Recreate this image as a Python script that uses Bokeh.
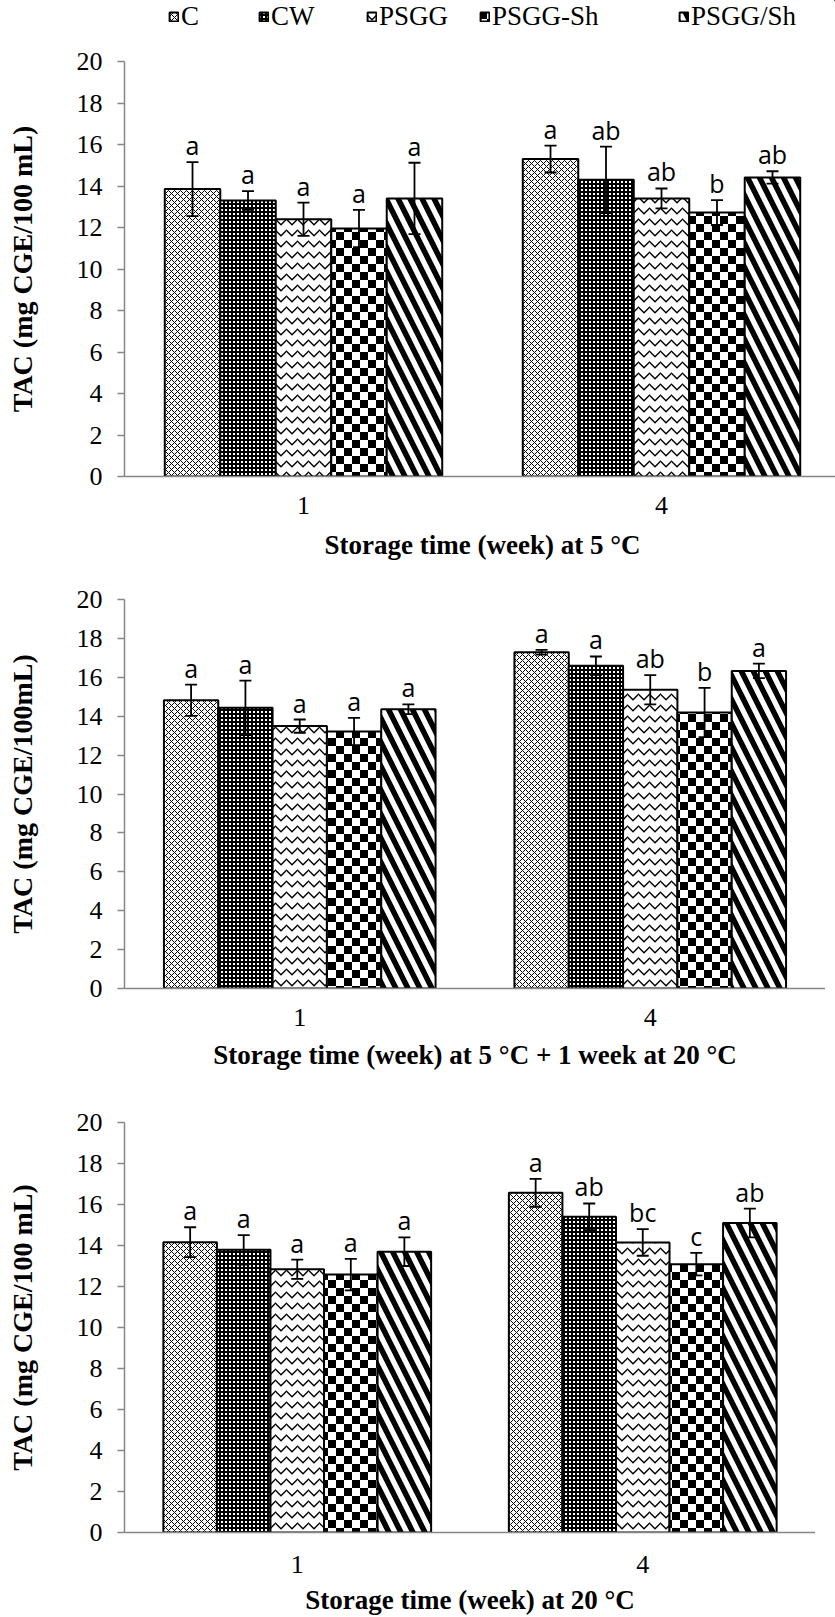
import base64
from bokeh.plotting import figure
from bokeh.models import (ColumnDataSource, FactorRange, Range1d, Legend, LegendItem,
                          ImageURLTexture, FixedTicker)
from bokeh.transform import dodge
from bokeh.layouts import column
from bokeh.embed import file_html
from bokeh.resources import INLINE
from bokeh.core.properties import value

# ---------------- data ----------------
weeks = ["1", "4"]
treatments = ["C", "CW", "PSGG", "PSGG-Sh", "PSGG/Sh"]

# Panel A: storage at 5 °C
a_wk1 = [13.85, 13.30, 12.40, 11.95, 13.40]
a_wk1_sd = [1.30, 0.45, 0.80, 0.90, 1.72]
a_wk1_let = ["a", "a", "a", "a", "a"]
a_wk4 = [15.30, 14.30, 13.40, 12.72, 14.41]
a_wk4_sd = [0.65, 1.60, 0.48, 0.60, 0.30]
a_wk4_let = ["a", "ab", "ab", "b", "ab"]

# Panel B: storage at 5 °C + 1 week at 20 °C
b_wk1 = [14.82, 14.43, 13.49, 13.21, 14.36]
b_wk1_sd = [0.80, 1.40, 0.34, 0.70, 0.25]
b_wk1_let = ["a", "a", "a", "a", "a"]
b_wk4 = [17.29, 16.60, 15.36, 14.19, 16.33]
b_wk4_sd = [0.12, 0.47, 0.75, 1.27, 0.37]
b_wk4_let = ["a", "a", "ab", "b", "a"]

# Panel C: storage at 20 °C
c_wk1 = [14.16, 13.79, 12.84, 12.58, 13.70]
c_wk1_sd = [0.73, 0.72, 0.47, 0.77, 0.70]
c_wk1_let = ["a", "a", "a", "a", "a"]
c_wk4 = [16.57, 15.40, 14.15, 13.09, 15.10]
c_wk4_sd = [0.68, 0.65, 0.65, 0.55, 0.70]
c_wk4_let = ["a", "ab", "bc", "c", "ab"]

y_ticks = [0, 2, 4, 6, 8, 10, 12, 14, 16, 18, 20]

# ---------------- styles ----------------
SERIF = "Liberation Serif"
AXIS_GRAY = "#868686"
BAR_W = 0.155


def svg_texture(svg):
    url = "data:image/svg+xml;base64," + base64.b64encode(svg.encode()).decode()
    return ImageURLTexture(url=url)


textures = {
    "checker": svg_texture(
        "<svg xmlns='http://www.w3.org/2000/svg' width='16' height='16'>"
        "<rect width='16' height='16' fill='white'/>"
        "<rect x='0' y='0' width='8' height='8' fill='black'/>"
        "<rect x='8' y='8' width='8' height='8' fill='black'/></svg>"),
    "darkdots": svg_texture(
        "<svg xmlns='http://www.w3.org/2000/svg' width='4' height='4'>"
        "<rect width='4' height='4' fill='black'/>"
        "<rect x='1' y='1' width='2' height='2' fill='white'/></svg>"),
}

hatch_styles = [
    dict(hatch_pattern=value("diagonal_cross"), hatch_scale=6, hatch_weight=1.0),
    dict(hatch_pattern=value("darkdots"), hatch_scale=4, hatch_weight=1),
    dict(hatch_pattern=value("horizontal_wave"), hatch_scale=11, hatch_weight=1.3),
    dict(hatch_pattern=value("checker"), hatch_scale=16, hatch_weight=1),
    dict(hatch_pattern=value("left_diagonal_line"), hatch_scale=24, hatch_weight=5.5),
]
bar_style = dict(fill_color="white", line_color="black", line_width=2,
                 hatch_color="black", hatch_extra=textures)

# ---------------- legend strip ----------------
legend_x = [44, 134, 242, 355, 554]   # offsets from the plot's left edge, px
lg = figure(frame_width=711, frame_height=40, x_range=Range1d(0, 1), y_range=Range1d(0, 1),
            output_backend="svg", toolbar_location=None, min_border_left=124,
            min_border_right=0, min_border_top=0, min_border_bottom=0,
            x_axis_location=None, y_axis_location=None, outline_line_color=None,
            background_fill_color="white", border_fill_color="white")
lg.xgrid.visible = False
lg.ygrid.visible = False
lg.axis.visible = False
for i, t in enumerate(treatments):
    # swatch-only renderer, kept outside the visible ranges
    swatch = lg.vbar(x=[5], bottom=[5], top=[6], width=0.1, **bar_style, **hatch_styles[i])
    lg.add_layout(Legend(items=[LegendItem(label=t, renderers=[swatch])],
                         location=(legend_x[i], 8), orientation="horizontal",
                         glyph_width=11, glyph_height=11, label_standoff=2,
                         padding=0, margin=0, border_line_color=None,
                         background_fill_alpha=0, label_text_font=SERIF,
                         label_text_font_size="27px", label_text_color="black"))


def make_panel(wk1, wk1_sd, wk1_let, wk4, wk4_sd, wk4_let, ylabel, xlabel,
               fw, fh, top, bottom, tick_gap, title_gap):
    p = figure(x_range=FactorRange(*weeks, range_padding=0), y_range=Range1d(0, 20),
               frame_width=fw, frame_height=fh, output_backend="svg", toolbar_location=None,
               min_border_left=124, min_border_right=0, min_border_top=top,
               min_border_bottom=bottom, background_fill_color="white",
               border_fill_color="white", outline_line_color=None)
    p.xgrid.visible = False
    p.ygrid.visible = False

    for i, t in enumerate(treatments):
        off = (i - 2) * BAR_W
        means = [wk1[i], wk4[i]]
        sds = [wk1_sd[i], wk4_sd[i]]
        src = ColumnDataSource(dict(
            week=weeks, top=means,
            upper=[m + s for m, s in zip(means, sds)],
            lower=[m - s for m, s in zip(means, sds)],
            letter=[wk1_let[i], wk4_let[i]],
        ))
        xs = dodge("week", off, range=p.x_range)
        p.vbar(x=xs, top="top", width=BAR_W, source=src, **bar_style, **hatch_styles[i])
        p.segment(x0=xs, y0="lower", x1=xs, y1="upper", source=src,
                  line_color="black", line_width=1.8)
        p.scatter(x=xs, y="upper", marker="dash", size=12, source=src,
                  line_color="black", line_width=1.8)
        p.scatter(x=xs, y="lower", marker="dash", size=12, source=src,
                  line_color="black", line_width=1.8)
        p.text(x=xs, y="upper", text="letter", source=src,
               text_font=value("Open Sans"), text_font_size="25px",
               text_align="center", text_baseline="alphabetic", y_offset=-17,
               text_color="black")

    # y axis
    ya = p.yaxis[0]
    ya.ticker = FixedTicker(ticks=y_ticks)
    ya.axis_line_color = AXIS_GRAY
    ya.axis_line_width = 1.5
    ya.major_tick_line_color = AXIS_GRAY
    ya.major_tick_line_width = 1.5
    ya.major_tick_out = 7
    ya.major_tick_in = 0
    ya.minor_tick_line_color = None
    ya.major_label_text_font = SERIF
    ya.major_label_text_font_size = "26px"
    ya.major_label_text_color = "black"
    ya.major_label_standoff = 15
    ya.axis_label = ylabel
    ya.axis_label_text_font = SERIF
    ya.axis_label_text_font_style = "bold"
    ya.axis_label_text_font_size = "28px"
    ya.axis_label_text_color = "black"
    ya.axis_label_standoff = 36

    # x axis
    xa = p.xaxis[0]
    xa.axis_line_color = AXIS_GRAY
    xa.axis_line_width = 1.5
    xa.major_tick_line_color = None
    xa.major_tick_out = 0
    xa.major_tick_in = 0
    xa.minor_tick_line_color = None
    xa.major_label_text_font = SERIF
    xa.major_label_text_font_size = "26px"
    xa.major_label_text_color = "black"
    xa.major_label_standoff = tick_gap
    xa.axis_label = xlabel
    xa.axis_label_text_font = SERIF
    xa.axis_label_text_font_style = "bold"
    xa.axis_label_text_font_size = "27px"
    xa.axis_label_text_color = "black"
    xa.axis_label_standoff = title_gap
    return p


p1 = make_panel(a_wk1, a_wk1_sd, a_wk1_let, a_wk4, a_wk4_sd, a_wk4_let,
                "TAC (mg CGE/100 mL)", "Storage time (week) at 5 °C",
                fw=716, fh=415, top=21, bottom=94, tick_gap=20, title_gap=13)
p2 = make_panel(b_wk1, b_wk1_sd, b_wk1_let, b_wk4, b_wk4_sd, b_wk4_let,
                "TAC (mg CGE/100mL)", "Storage time (week) at 5 °C + 1 week at 20 °C",
                fw=701, fh=389, top=29, bottom=92, tick_gap=20, title_gap=11)
p3 = make_panel(c_wk1, c_wk1_sd, c_wk1_let, c_wk4, c_wk4_sd, c_wk4_let,
                "TAC (mg CGE/100 mL)", "Storage time (week) at 20 °C",
                fw=691, fh=410, top=42, bottom=85, tick_gap=23, title_gap=9)

layout = column(lg, p1, p2, p3, spacing=0)
open("out.html", "w").write(file_html(layout, INLINE))
